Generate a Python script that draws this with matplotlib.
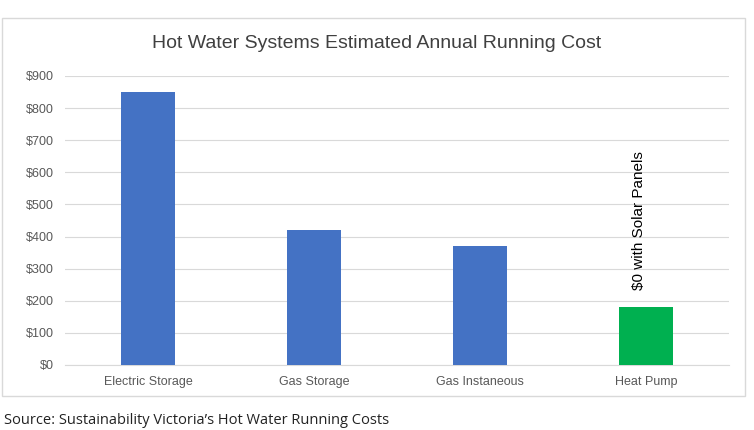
import matplotlib
matplotlib.use("Agg")
import matplotlib.pyplot as plt
from matplotlib.patches import Rectangle

categories = ["Electric Storage", "Gas Storage", "Gas Instaneous", "Heat Pump"]
values = [850, 420, 370, 180]
colors = ["#4472C4", "#4472C4", "#4472C4", "#00B050"]
yticks = list(range(0, 1000, 100))

fig = plt.figure(figsize=(7.54, 4.30), dpi=100)
fig.patches.append(Rectangle((2/754, 1-396/430), 743/754, 378/430, transform=fig.transFigure,
                             fill=False, edgecolor="#D9D9D9", lw=1))
ax = fig.add_axes([65/754, 1-365/430, 664/754, 289/430])
x = range(len(categories))
ax.bar(x, values, width=0.32, color=colors, zorder=3)
ax.set_xlim(-0.5, 3.5)
ax.set_ylim(0, 900)
ax.set_yticks(yticks)
ax.set_yticklabels([f"${v}" for v in yticks], fontsize=9, color="#595959", fontname="Liberation Sans")
ax.set_xticks(list(x))
ax.set_xticklabels(categories, fontsize=9, color="#595959", fontname="Liberation Sans")
ax.grid(axis="y", color="#D9D9D9", lw=0.8, zorder=0)
for s in ["top", "right", "left"]:
    ax.spines[s].set_visible(False)
ax.spines["bottom"].set_color("#D9D9D9")
ax.tick_params(length=0, pad=8)
ax.text(3 - 0.04, 450, "$0 with Solar Panels", rotation=90, ha="center", va="center",
        fontsize=11, fontname="Liberation Sans", color="black")
fig.text(0.5, 1-44/430, "Hot Water Systems Estimated Annual Running Cost", ha="center", va="center",
         fontsize=14, color="#404040", fontname="Liberation Sans")
fig.text(4/754, 1-420/430, "Source: Sustainability Victoria\u2019s Hot Water Running Costs", ha="left",
         va="center", fontsize=10.5, color="#222222", fontname="Open Sans")
fig.savefig("out.png", dpi=100)
